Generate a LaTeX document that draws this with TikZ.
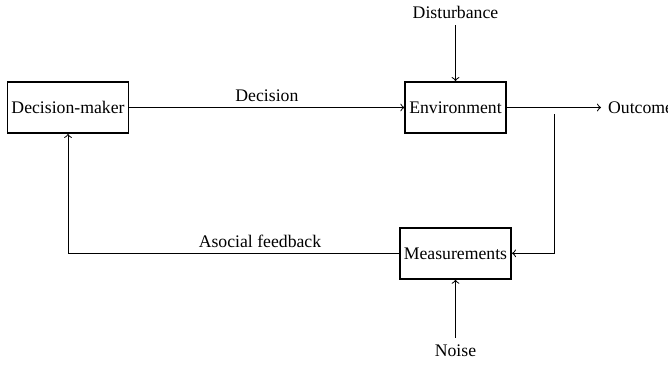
\documentclass[tikz,border=0pt]{standalone}
\usepackage{fontspec}
\setmainfont{Liberation Serif}
\usetikzlibrary{positioning}

\begin{document}
\begin{tikzpicture}[x=0.5pt, y=-0.5pt, >=to, line width=0.5pt,
    font=\fontsize{8.85}{10}\selectfont,
    block/.style={draw, line width=0.9pt, inner xsep=2pt, minimum height=25.5pt}]
    \useasboundingbox (0,0) rectangle (668,364);

    \node[block] (dm) at (68,107.5) {Decision-maker};
    \node[block] (env) at (455.5,107.5) {Environment};
    \node[block] (meas) at (455.5,253.3) {Measurements};

    \node (dist) at (455.5,12) {Disturbance};
    \node[anchor=west] (out) at (601,107.5) {Outcome};
    \node (noise) at (455.5,351) {Noise};
    \coordinate (tap) at (554,114);

    \draw[->] (dm) -- node[above, inner sep=2.5pt] {Decision} (env);
    \draw[->] (dist) -- (env);
    \draw[->] (env) -- (out);
    \draw[->] (tap) |- (meas);
    \draw[->] (noise) -- (meas);
    \draw[->] (meas) -| node[pos=0.21, above, inner sep=2.5pt] {Asocial feedback} (dm);
\end{tikzpicture}
\end{document}
